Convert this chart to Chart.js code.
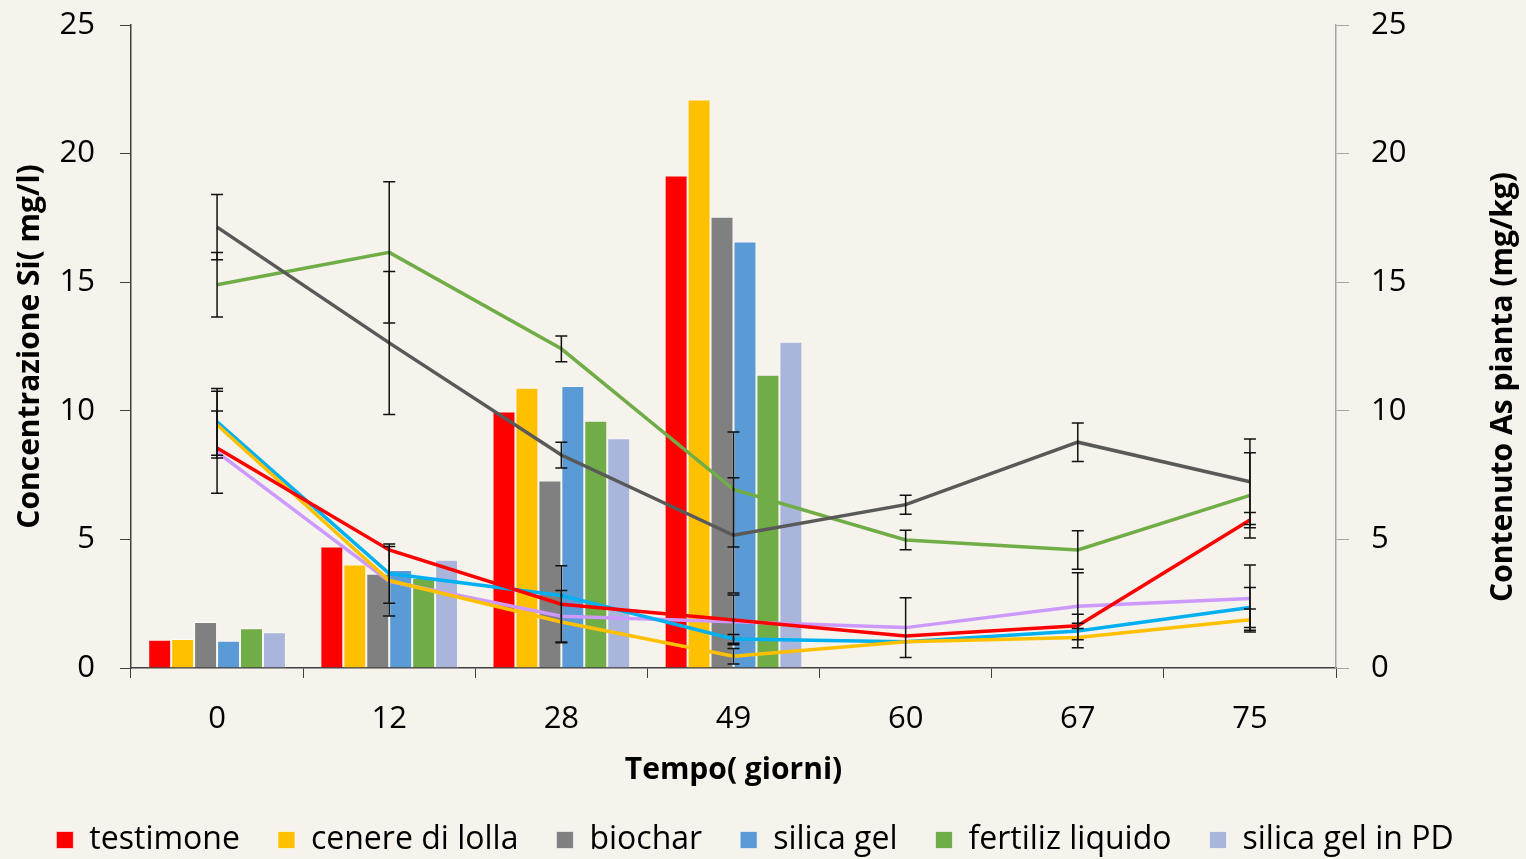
<!DOCTYPE html>
<html lang="it">
<head>
<meta charset="utf-8">
<title>Concentrazione Si e contenuto As</title>
<script src="https://cdn.jsdelivr.net/npm/chart.js@4.4.1/dist/chart.umd.min.js"></script>
<style>
    html, body { margin: 0; padding: 0; background: #f5f3ec; overflow: hidden; }
    canvas { display: block; }
</style>
</head>
<body>
<canvas id="chartSiAs" width="1526" height="859"></canvas>
<script>
// tempo (giorni)
const categories = ['0', '12', '28', '49', '60', '67', '75'];

// Concentrazione Si (mg/l) - barre
const siTestimone = [1.1, 4.72, 9.97, 19.15, null, null, null];
const siCenere = [1.13, 4.02, 10.9, 22.1, null, null, null];
const siBiochar = [1.79, 3.66, 7.29, 17.54, null, null, null];
const siSilicaGel = [1.06, 3.81, 10.96, 16.58, null, null, null];
const siFertiliz = [1.55, 3.5, 9.61, 11.4, null, null, null];
const siSilicaPD = [1.39, 4.21, 8.93, 12.68, null, null, null];

// Contenuto As pianta (mg/kg) - linee
const asTestimone = [8.55, 4.59, 2.48, 1.87, 1.24, 1.64, 5.75];
const asCenere = [9.46, 3.4, 1.79, 0.46, 1.02, 1.19, 1.88];
const asBiochar = [17.14, 12.64, 8.28, 5.16, 6.35, 8.78, 7.24];
const asSilicaGel = [9.57, 3.67, 2.82, 1.13, 1.02, 1.44, 2.35];
const asFertiliz = [14.9, 16.16, 12.41, 6.94, 4.98, 4.59, 6.71];
const asSilicaPD = [8.39, 3.37, 2.01, 1.8, 1.57, 2.4, 2.7];

// barre di errore (± mg/kg)
const errTestimone = [0, 0, 1.5, 0.97, 0, 0.1, 0.3];
const errCenere = [1.3, 0, 0, 0.3, 0, 0, 0.41];
const errBiochar = [1.27, 2.78, 0.5, 2.24, 0.37, 0.75, 1.66];
const errSilicaGel = [1.3, 1.15, 0, 0.17, 0, 0.65, 0.78];
const errFertiliz = [1.25, 2.75, 0.5, 2.24, 0.38, 0.75, 1.66];
const errSilicaPD = [1.6, 1.35, 1.0, 0, 1.16, 1.3, 1.3];

const yTicks = [0, 5, 10, 15, 20, 25];

const palette = {
    red: '#FF0000',
    amber: '#FFC000',
    gray: '#808080',
    darkGray: '#595959',
    blue: '#5B9BD5',
    cyan: '#00B0F0',
    green: '#70AD47',
    lavender: '#A9B5DB',
    lilac: '#CC99FF',
    ink: '#000000',
};

const FONT = "'Open Sans', 'Noto Sans', sans-serif";

function bar(label, data, color) {
    return {
        type: 'bar',
        label,
        data,
        backgroundColor: color,
        borderColor: 'rgba(255, 255, 255, 0.6)',
        borderWidth: 1,
        yAxisID: 'y',
        order: 2,
        categoryPercentage: 0.8,
        barPercentage: 1.0,
    };
}

function line(label, data, errors, color) {
    return {
        type: 'line',
        label,
        data,
        errors,
        borderColor: color,
        backgroundColor: color,
        borderWidth: 3.5,
        pointRadius: 0,
        tension: 0,
        fill: false,
        yAxisID: 'y1',
        order: 1,
    };
}

const background = {
    id: 'background',
    beforeDraw(chart) {
        const { ctx, width, height } = chart;
        ctx.save();
        ctx.fillStyle = '#f5f3ec';
        ctx.fillRect(0, 0, width, height);
        ctx.restore();
    },
};

const errorBars = {
    id: 'errorBars',
    afterDatasetsDraw(chart) {
        const { ctx } = chart;
        const yAxis = chart.scales.y1;
        ctx.save();
        ctx.strokeStyle = '#111111';
        ctx.lineWidth = 1.5;
        chart.data.datasets.forEach((ds, i) => {
            if (!ds.errors) {
                return;
            }
            const meta = chart.getDatasetMeta(i);
            meta.data.forEach((pt, j) => {
                const err = ds.errors[j];
                if (!err) {
                    return;
                }
                const v = ds.data[j];
                const top = yAxis.getPixelForValue(v + err);
                const bottom = yAxis.getPixelForValue(v - err);
                const x = pt.x;
                ctx.beginPath();
                ctx.moveTo(x, top);
                ctx.lineTo(x, bottom);
                ctx.moveTo(x - 6, top);
                ctx.lineTo(x + 6, top);
                ctx.moveTo(x - 6, bottom);
                ctx.lineTo(x + 6, bottom);
                ctx.stroke();
            });
        });
        ctx.restore();
    },
};

// titolo asse destro, letto dal basso verso l'alto come nell'originale
const rightTitle = {
    id: 'rightTitle',
    afterDraw(chart) {
        const { ctx } = chart;
        ctx.save();
        ctx.translate(1503, 387);
        ctx.rotate(-Math.PI / 2);
        ctx.font = `bold 30px ${FONT}`;
        ctx.fillStyle = palette.ink;
        ctx.textAlign = 'center';
        ctx.textBaseline = 'middle';
        ctx.fillText('Contenuto As pianta (mg/kg)', 0, 0);
        ctx.restore();
    },
};

new Chart(document.getElementById('chartSiAs'), {
    type: 'bar',
    data: {
        labels: categories,
        datasets: [
            bar('testimone', siTestimone, palette.red),
            bar('cenere di lolla', siCenere, palette.amber),
            bar('biochar', siBiochar, palette.gray),
            bar('silica gel', siSilicaGel, palette.blue),
            bar('fertiliz liquido', siFertiliz, palette.green),
            bar('silica gel in PD', siSilicaPD, palette.lavender),
            line('As testimone', asTestimone, errTestimone, palette.red),
            line('As cenere di lolla', asCenere, errCenere, palette.amber),
            line('As biochar', asBiochar, errBiochar, palette.darkGray),
            line('As silica gel', asSilicaGel, errSilicaGel, palette.cyan),
            line('As fertiliz liquido', asFertiliz, errFertiliz, palette.green),
            line('As silica gel in PD', asSilicaPD, errSilicaPD, palette.lilac),
        ],
    },
    options: {
        responsive: false,
        animation: false,
        layout: {
            padding: { top: 25, left: 0, right: 16, bottom: 0 },
        },
        plugins: {
            tooltip: { enabled: false },
            legend: {
                position: 'bottom',
                maxHeight: 73,
                labels: {
                    color: palette.ink,
                    boxWidth: 17,
                    boxHeight: 17,
                    padding: 38,
                    font: { family: FONT, size: 32 },
                    filter: (item, data) => data.datasets[item.datasetIndex].type === 'bar',
                },
            },
        },
        scales: {
            x: {
                grid: {
                    drawOnChartArea: false,
                    tickLength: 10,
                    color: '#404040',
                    offset: true,
                },
                border: { color: '#404040', width: 1.5 },
                ticks: {
                    color: palette.ink,
                    padding: 23,
                    font: { family: FONT, size: 31 },
                },
                title: {
                    display: true,
                    text: 'Tempo( giorni)',
                    color: palette.ink,
                    font: { family: FONT, size: 30, weight: 'bold', lineHeight: 0.6 },
                    padding: { top: 0, bottom: 7 },
                },
                afterFit(scale) {
                    scale.height = 118;
                },
            },
            y: {
                position: 'left',
                min: 0,
                max: 25,
                afterBuildTicks(scale) {
                    scale.ticks = yTicks.map((value) => ({ value }));
                },
                grid: {
                    drawOnChartArea: false,
                    tickLength: 11,
                    color: '#404040',
                },
                border: { color: '#404040', width: 1.5 },
                ticks: {
                    color: palette.ink,
                    padding: 25,
                    font: { family: FONT, size: 31 },
                },
                title: {
                    display: true,
                    text: 'Concentrazione Si( mg/l)',
                    color: palette.ink,
                    font: { family: FONT, size: 30, weight: 'bold' },
                    padding: { top: 12, bottom: 0 },
                },
                afterFit(scale) {
                    scale.width = 131;
                    scale.paddingTop = 0;
                    scale.paddingBottom = 0;
                },
            },
            y1: {
                position: 'right',
                min: 0,
                max: 25,
                afterBuildTicks(scale) {
                    scale.ticks = yTicks.map((value) => ({ value }));
                },
                grid: {
                    drawOnChartArea: false,
                    tickLength: 13,
                    color: '#A6A6A6',
                },
                border: { color: '#A6A6A6', width: 1.5 },
                ticks: {
                    color: palette.ink,
                    padding: 22,
                    font: { family: FONT, size: 31 },
                },
                afterFit(scale) {
                    scale.width = 174;
                    scale.paddingTop = 0;
                    scale.paddingBottom = 0;
                },
            },
        },
    },
    plugins: [background, errorBars, rightTitle],
});
</script>
</body>
</html>
